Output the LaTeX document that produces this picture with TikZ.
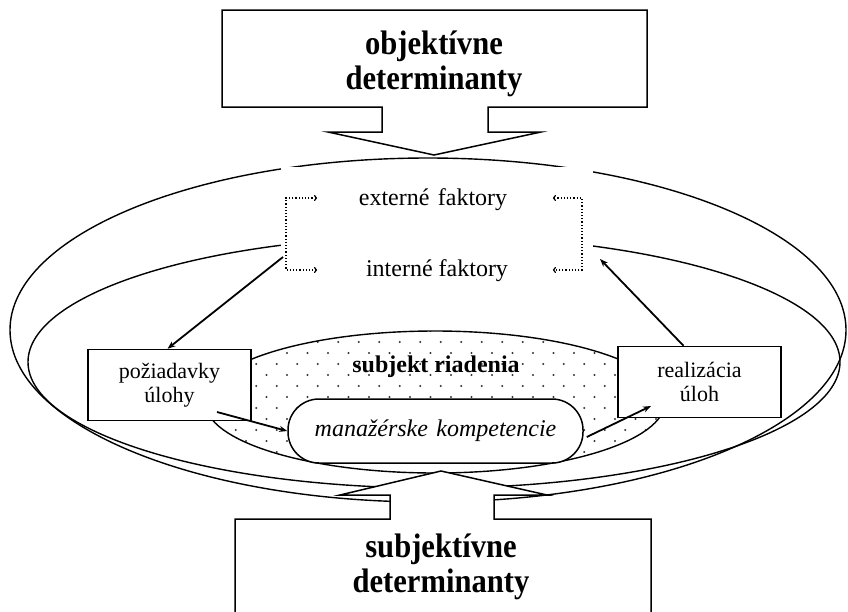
\documentclass[tikz,border=0pt]{standalone}
\usepackage{fontspec}
\setmainfont{Liberation Serif}
\newfontfamily\detfont[FakeStretch=0.9]{Liberation Serif}
\usetikzlibrary{arrows.meta}

\begin{document}
\begin{tikzpicture}[x=1pt,y=-1pt,
 ring/.style={line width=1.4pt},
 blockarrow/.style={draw,fill=white,line width=1.5pt,line join=miter},
 taskbox/.style={draw,fill=white,line width=1.5pt,minimum width=163pt,minimum height=71pt,
  align=center,font=\fontsize{22}{24}\selectfont},
 factor/.style={font=\fontsize{24}{26}\selectfont},
 determ/.style={align=center,font=\detfont\bfseries\fontsize{34}{35}\selectfont},
 flow/.style={line width=1.8pt,-{Stealth[length=8pt,width=6pt]}},
 loopback/.style={dotted,line width=1.2pt,{To[length=3pt,width=6pt]}-{To[length=3pt,width=6pt]}}]

\useasboundingbox (0,0) rectangle (848,611);

% the two rings
\draw[ring] (428,330) ellipse [x radius=418pt, y radius=172pt];
\draw[ring] (434,362) ellipse [x radius=406pt, y radius=126pt];
\fill[white] (281,167) rectangle (593,300);

% subjekt riadenia
\begin{scope}
 \clip (435,402) ellipse [x radius=230pt, y radius=71pt];
 \foreach \j in {0,...,13}
  \foreach \i in {0,...,23}
   \fill[black!80] ({205+\i*20.5+mod(\j,2)*10.25},{331+\j*11}) circle (1.1pt);
\end{scope}
\draw[ring] (435,402) ellipse [x radius=230pt, y radius=71pt];
\node[font=\bfseries\fontsize{24}{26}\selectfont] (subj) at (436,367) {subjekt riadenia};

\node[factor] (ext) at (433,200) {externé\hspace{.35em}faktory};
\node[factor] (int) at (437,271) {interné faktory};
\draw[loopback] (317,198) -- (286,198) -- (286,270) -- (317,270);
\draw[loopback] (553,198) -- (582,198) -- (582,270) -- (553,270);

\node[taskbox] (req) at (169.5,385) {požiadavky\\úlohy};
\node[taskbox] (real) at (699.5,382) {realizácia\\úloh};
\node[draw,fill=white,line width=1.5pt,rounded corners=31pt,minimum width=295pt,minimum height=64pt,
 font=\itshape\fontsize{24}{26}\selectfont] (komp) at (435.5,431) {manažérske\hspace{.35em}kompetencie};

\coordinate (intL) at (283,257);
\coordinate (intR) at (600,259);
\coordinate (reqOut) at (217,412);
\coordinate (realIn) at (651,406);
\draw[flow] (intL) -- ([xshift=-2pt]req.north);
\draw[flow] ([xshift=-16pt]real.north) -- (intR);
\draw[flow] (reqOut) -- (komp.west);
\draw[flow] ([shift={(3,6)}]komp.east) -- (realIn);

% determinanty
\draw[blockarrow] (222,10) -- (647,10) -- (647,107) -- (488,107) -- (488,132) -- (541,132)
 -- (434,155) -- (328,132) -- (382,132) -- (382,107) -- (222,107) -- cycle;
\node[determ] (obj) at (434,64) {objektívne\\determinanty};

\draw[blockarrow] (235,613) -- (235,519) -- (390,519) -- (390,495) -- (340,495) -- (441,471)
 -- (547,495) -- (494,495) -- (494,519) -- (651,519) -- (651,613);
\node[determ] (subjdet) at (441,567) {subjektívne\\determinanty};

\end{tikzpicture}
\end{document}
